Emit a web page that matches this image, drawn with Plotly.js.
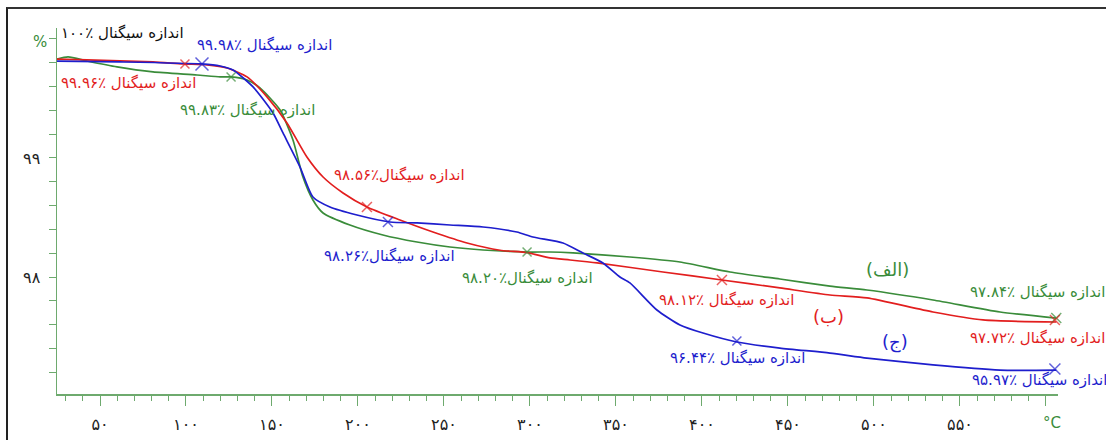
<!DOCTYPE html>
<html>
<head>
<meta charset="utf-8">
<script src="https://cdn.plot.ly/plotly-3.0.1.min.js"></script>
<style>
  html, body { margin: 0; padding: 0; background: #fff; overflow: hidden; }
  #wrap { position: relative; width: 1106px; height: 440px; }
  #frame { position: absolute; left: 6px; top: 7px; width: 1200px; height: 500px;
           border-left: 2px solid #222; border-top: 2px solid #333; pointer-events: none; }
</style>
</head>
<body>
<div id="wrap">
  <div id="chart" style="width:1106px;height:440px;"></div>
  <div id="frame"></div>
</div>
<script>
// ---- data (temperature °C, signal on the displayed axis) ----
const tempA = [21, 31.4, 42.4, 59.9, 80.8, 106.4, 119.8, 126.2, 135.5, 143.0, 154.7, 162.2, 168.0, 173.8, 179.7, 195.3, 214.5, 234.3, 253.5, 272.7, 298.3, 311.6, 325.0, 358.1, 387.2, 416.3, 445.3, 474.4, 495.9, 534.3, 573.3, 606];
const signalA = [99.815, 99.849, 99.815, 99.765, 99.723, 99.697, 99.681, 99.681, 99.655, 99.588, 99.403, 99.151, 98.840, 98.647, 98.538, 98.437, 98.353, 98.294, 98.252, 98.227, 98.210, 98.210, 98.202, 98.168, 98.126, 98.042, 97.983, 97.924, 97.891, 97.807, 97.706, 97.655];

const tempB = [21, 42.4, 80.8, 98.3, 112.2, 123.8, 135.5, 147.1, 158.7, 170.3, 179.7, 191.3, 205.2, 224.4, 243.6, 263.4, 282.6, 298.3, 311.6, 323.3, 339.0, 377.3, 411.6, 445.3, 474.4, 495.9, 534.3, 563.4, 606];
const signalB = [99.832, 99.824, 99.807, 99.790, 99.782, 99.756, 99.681, 99.513, 99.294, 99.008, 98.840, 98.706, 98.588, 98.479, 98.378, 98.286, 98.225, 98.205, 98.160, 98.143, 98.118, 98.042, 97.975, 97.908, 97.849, 97.824, 97.706, 97.639, 97.622];

const tempC = [21, 61.6, 109.3, 119.8, 127.3, 139.0, 150.6, 156.4, 166.3, 173.8, 183.7, 199.4, 218.6, 234.3, 253.5, 272.7, 292.4, 301.7, 319.2, 330.8, 342.4, 352.3, 358.1, 373.8, 387.2, 400.6, 420.3, 445.3, 474.4, 495.9, 534.3, 573.3, 606];
const signalC = [99.815, 99.807, 99.790, 99.773, 99.739, 99.597, 99.378, 99.210, 98.924, 98.672, 98.588, 98.521, 98.462, 98.454, 98.437, 98.420, 98.378, 98.336, 98.286, 98.202, 98.118, 98.000, 97.950, 97.723, 97.597, 97.529, 97.454, 97.403, 97.361, 97.319, 97.261, 97.218, 97.218];

// marked points (step markers)
const markTempA = [126.2, 298.3, 606];
const markSigA  = [99.681, 98.210, 97.655];
const markTempB = [99.4, 205.2, 411.6, 605.2];
const markSigB  = [99.790, 98.588, 97.975, 97.639];
const markTempC = [109.3, 217.4, 420.3, 605.2];
const markSigC  = [99.790, 98.462, 97.462, 97.227];

// axis ticks
const xTickVals = [50, 100, 150, 200, 250, 300, 350, 400, 450, 500, 550, 600];
const xTickText = ['۵۰', '۱۰۰', '۱۵۰', '۲۰۰', '۲۵۰', '۳۰۰', '۳۵۰', '۴۰۰', '۴۵۰', '۵۰۰', '۵۵۰', ''];
const yTickVals = [97.2, 97.4, 97.6, 97.8, 98.0, 98.2, 98.4, 98.6, 98.8, 99.0, 99.2, 99.4, 99.6, 99.8, 100.0];
const yTickText = ['', '', '', '', '۹۸', '', '', '', '', '۹۹', '', '', '', '', ''];

const GREEN = 'rgb(58,140,58)';
const RED = 'rgb(226,30,30)';
const BLUE = 'rgb(30,30,205)';
const AXIS = 'rgb(110,170,110)';
const FONT = 'DejaVu Sans, sans-serif';

function curve(x, y, c) {
  return { x: x, y: y, mode: 'lines', type: 'scatter', hoverinfo: 'skip',
           line: { color: c, width: 1.7, shape: 'spline', smoothing: 0.6 } };
}
function marks(x, y, c, sizes) {
  return { x: x, y: y, mode: 'markers', type: 'scatter', hoverinfo: 'skip', cliponaxis: false,
           marker: { symbol: 'x-thin-open', size: sizes, color: c, line: { color: c, width: 1.5 } } };
}

const data = [
  curve(tempA, signalA, GREEN),
  curve(tempB, signalB, RED),
  curve(tempC, signalC, BLUE),
  marks(markTempA, markSigA, GREEN, [9, 9, 10]),
  marks(markTempB, markSigB, RED, [9, 10, 10, 10]),
  marks(markTempC, markSigC, BLUE, [13, 10, 9, 11])
];

function ann(text, x, y, color, size, xanchor) {
  return { text: text, x: x, y: y, xref: 'x', yref: 'y', showarrow: false,
           xanchor: xanchor || 'center', yanchor: 'middle',
           font: { family: FONT, size: size || 15, color: color } };
}
function pann(text, x, y, color, size) {
  return { text: text, x: x, y: y, xref: 'paper', yref: 'paper', showarrow: false,
           xanchor: 'center', yanchor: 'middle',
           font: { family: FONT, size: size, color: color } };
}

const layout = {
  width: 1106, height: 440,
  margin: { l: 57, r: 48, t: 28, b: 46 },
  paper_bgcolor: '#ffffff', plot_bgcolor: '#ffffff',
  showlegend: false,
  xaxis: {
    range: [25, 607], showgrid: false, zeroline: false,
    showline: true, linecolor: AXIS, linewidth: 1.5,
    tickmode: 'array', tickvals: xTickVals, ticktext: xTickText,
    ticks: 'outside', ticklen: 10, tickwidth: 1, tickcolor: AXIS,
    ticklabelstandoff: 5,
    tickfont: { family: FONT, size: 16, color: '#222' },
    minor: { tickmode: 'linear', tick0: 0, dtick: 10, ticks: 'outside', ticklen: 5, tickwidth: 1, tickcolor: AXIS, showgrid: false }
  },
  yaxis: {
    range: [97.017, 100.092], showgrid: false, zeroline: false,
    showline: true, linecolor: AXIS, linewidth: 1.5,
    tickmode: 'array', tickvals: yTickVals, ticktext: yTickText,
    ticks: 'outside', ticklen: 7, tickwidth: 1, tickcolor: AXIS,
    ticklabelstandoff: 5,
    tickfont: { family: FONT, size: 16, color: '#222' }
  },
  annotations: [
    pann('%', -0.017, 0.962, GREEN, 15),
    pann('°C', 0.994, -0.079, GREEN, 15),
    ann('اندازه سیگنال ٪۱۰۰', 62.8, 100.05, '#111'),
    ann('اندازه سیگنال ٪۹۹.۹۸', 145.9, 99.950, BLUE),
    ann('اندازه سیگنال ٪۹۹.۹۶', 66.3, 99.630, RED),
    ann('اندازه سیگنال ٪۹۹.۸۳', 136.0, 99.403, GREEN),
    ann('اندازه سیگنال٪۹۸.۵۶', 224.4, 98.857, RED),
    ann('اندازه سیگنال٪۹۸.۲۶', 218.6, 98.176, BLUE),
    ann('اندازه سیگنال٪۹۸.۲۰', 298.3, 97.992, GREEN),
    ann('اندازه سیگنال ٪۹۸.۱۲', 414.5, 97.807, RED),
    ann('اندازه سیگنال ٪۹۶.۴۴', 420.9, 97.319, BLUE),
    ann('(الف)', 507.6, 98.059, GREEN, 18),
    ann('(ب)', 473.8, 97.664, RED, 18),
    ann('(ج)', 512.2, 97.454, BLUE, 18),
    ann('اندازه سیگنال ٪۹۷.۸۴', 554.6, 97.874, GREEN, 15, 'left'),
    ann('اندازه سیگنال ٪۹۷.۷۲', 554.6, 97.487, RED, 15, 'left'),
    ann('اندازه سیگنال ٪۹۵.۹۷', 555.8, 97.134, BLUE, 15, 'left')
  ]
};

Plotly.newPlot('chart', data, layout, { staticPlot: true, displayModeBar: false });
</script>
</body>
</html>
